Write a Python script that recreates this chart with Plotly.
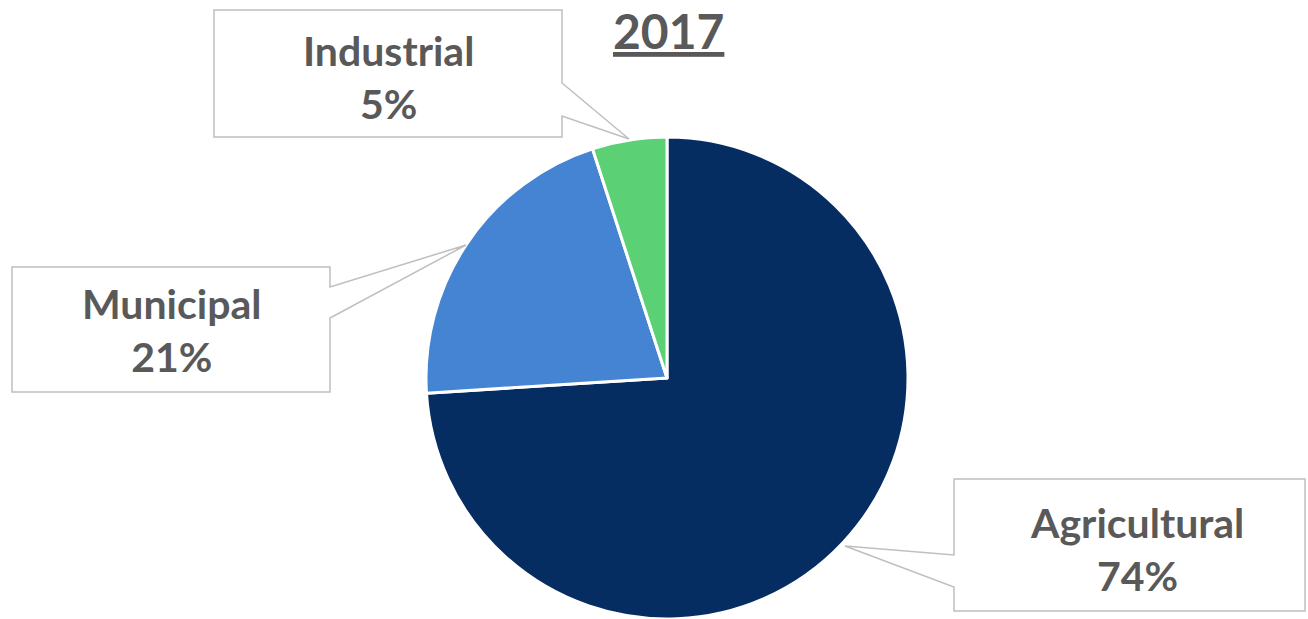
import plotly.graph_objects as go

categories = ["Agricultural", "Municipal", "Industrial"]
values = [74, 21, 5]
colors = ["#062D62", "#4584D3", "#5BD075"]
title_text = "2017"

W, H = 1308, 619

def px(x):
    return x / W

def py(y):
    return 1 - y / H

fig = go.Figure()

cx, cy, r = 667, 378, 241
fig.add_trace(go.Pie(
    labels=categories,
    values=values,
    sort=False,
    direction="clockwise",
    rotation=0,
    textinfo="none",
    hoverinfo="label+percent",
    marker=dict(colors=colors, line=dict(color="white", width=3)),
    domain=dict(x=[px(cx - r), px(cx + r)], y=[0, py(cy - r)]),
    showlegend=False,
))

# callout geometry (pixels): box left, top, right, bottom, pointer side, pointer y1, y2, tip x, tip y
callouts = {
    "Industrial": dict(box=(214, 10, 562, 137), side="right", p=(83, 116), tip=(629, 139), text=(388, 77)),
    "Municipal": dict(box=(12, 267, 330, 392), side="right", p=(287, 318), tip=(466, 245), text=(171, 330)),
    "Agricultural": dict(box=(954, 479, 1305, 611), side="left", p=(555, 587), tip=(845, 546), text=(1137, 549)),
}

shapes = []
annotations = []
for cat, val in zip(categories, values):
    c = callouts[cat]
    l, t, rr, b = c["box"]
    y1, y2 = c["p"]
    tx, ty = c["tip"]
    if c["side"] == "right":
        pts = [(l, t), (rr, t), (rr, y1), (tx, ty), (rr, y2), (rr, b), (l, b)]
    else:
        pts = [(l, t), (rr, t), (rr, b), (l, b), (l, y2), (tx, ty), (l, y1)]
    path = "M " + " L ".join(f"{px(x):.5f},{py(y):.5f}" for x, y in pts) + " Z"
    shapes.append(dict(type="path", xref="paper", yref="paper", path=path,
                       fillcolor="white", line=dict(color="#BFBFBF", width=1.5), layer="above"))
    ax, ay = c["text"]
    annotations.append(dict(
        x=px(ax), y=py(ay), xref="paper", yref="paper", xanchor="center", yanchor="middle",
        text=f"<b>{cat}</b><br><b>{val}%</b>", showarrow=False, align="center",
        font=dict(family="Lato", size=41, color="#595959"),
    ))

annotations.append(dict(
    x=px(668), y=py(31), xref="paper", yref="paper", xanchor="center", yanchor="middle",
    text=f"<b><u>{title_text}</u></b>", showarrow=False,
    font=dict(family="Lato", size=48, color="#595959"),
))

fig.update_layout(
    width=W, height=H,
    margin=dict(l=0, r=0, t=0, b=0),
    paper_bgcolor="white", plot_bgcolor="white",
    shapes=shapes, annotations=annotations,
)

fig.write_html(
    "out.html",
    config={"displayModeBar": False},
    post_script="document.body.style.margin='0';document.body.style.overflow='hidden';",
)
